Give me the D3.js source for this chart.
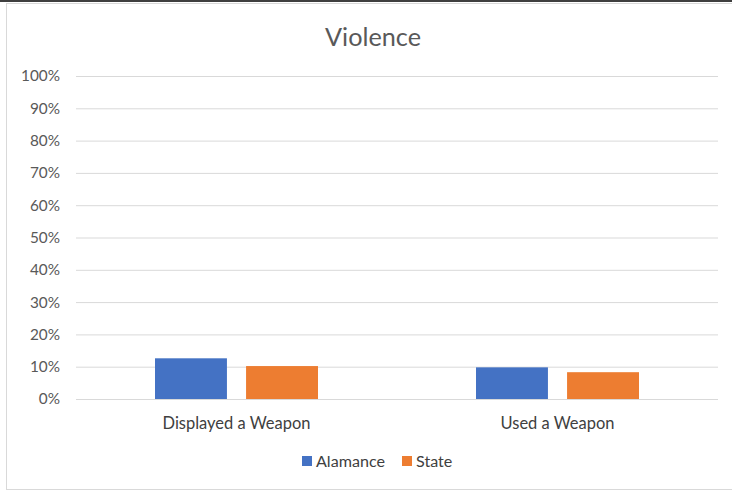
<!DOCTYPE html>
<html><head><meta charset="utf-8">
<script src="https://cdn.jsdelivr.net/npm/d3@7"></script>
<style>body{margin:0;background:#fff;}svg{display:block;}</style>
</head><body>
<svg id="c" width="732" height="491"></svg>
<script>
const categories = ["Displayed a Weapon", "Used a Weapon"];
const seriesNames = ["Alamance", "State"];
const alamance = [0.126, 0.098];
const state = [0.102, 0.083];
const tickValues = [0,0.1,0.2,0.3,0.4,0.5,0.6,0.7,0.8,0.9,1.0];
const colors = ["#4472C4", "#ED7D31"];

(function(){
const svg = d3.select("#c");
const font = "Lato, 'Open Sans', sans-serif";
function fit(sel, base, target){
  sel.style("font-size", base+"px");
  const w = sel.node().getComputedTextLength();
  return base*target/w;
}
svg.append("rect").attr("x",0).attr("y",0).attr("width",732).attr("height",2).attr("fill","#3f3f3f");
svg.append("rect").attr("x",6.5).attr("y",3.5).attr("width",740).attr("height",486).attr("fill","#fff").attr("stroke","#d9d9d9");

const mL = 76, mR = 718, mT = 76, mB = 399;
const y = d3.scaleLinear().domain([0,1]).range([mB, mT]);
const x0 = d3.scaleBand().domain(categories).range([mL, mR]).paddingInner(0).paddingOuter(0);
const x1 = d3.scaleBand().domain(seriesNames).range([0, 163]).paddingInner(0.21);

const yAxis = d3.axisLeft(y).tickValues(tickValues).tickFormat(d3.format(".0%")).tickSize(-(mR-mL)).tickPadding(16);
const ga = svg.append("g").attr("transform",`translate(${mL},0)`).call(yAxis);
ga.select(".domain").remove();
ga.selectAll(".tick line").attr("stroke","#d9d9d9").attr("stroke-width",1);
ga.selectAll(".tick text").attr("fill","#595959").style("font-family",font);
const tfs = fit(ga.selectAll(".tick text").filter(d=>d===1), 13, 39);
ga.selectAll(".tick text").style("font-size", tfs+"px");

const data = [alamance, state];
categories.forEach((c,i)=>{
  const g = svg.append("g").attr("transform",`translate(${x0(c)+(x0.bandwidth()-163)/2},0)`);
  seriesNames.forEach((s,j)=>{
    g.append("rect").attr("x",x1(s)).attr("width",x1.bandwidth())
     .attr("y",y(data[j][i])).attr("height",mB-y(data[j][i])).attr("fill",colors[j]);
  });
});

const xAxis = d3.axisBottom(x0).tickSize(0).tickPadding(18);
const gx = svg.append("g").attr("transform",`translate(0,${mB})`).call(xAxis);
gx.select(".domain").remove();
gx.selectAll(".tick text").attr("fill","#404040").style("font-family",font);
const cfs = fit(gx.selectAll(".tick text").filter(d=>d===categories[0]), 13, 148);
gx.selectAll(".tick text").style("font-size", cfs+"px");

const title = svg.append("text").attr("x",373).attr("y",45.5).attr("text-anchor","middle")
  .attr("fill","#595959").style("font-family",font).text("Violence");
title.style("font-size", fit(title, 24, 96)+"px");

const leg = svg.append("g");
const legX = [302, 402];
const legT = [];
seriesNames.forEach((s,j)=>{
  leg.append("rect").attr("x",legX[j]).attr("y",456).attr("width",10).attr("height",10).attr("fill",colors[j]);
  legT.push(leg.append("text").attr("x",legX[j]+14).attr("y",466.5).attr("fill","#404040")
    .style("font-family",font).text(s));
});
const lfs = fit(legT[0], 13, 69);
legT.forEach(t=>t.style("font-size", lfs+"px"));
})();
</script>
</body></html>
